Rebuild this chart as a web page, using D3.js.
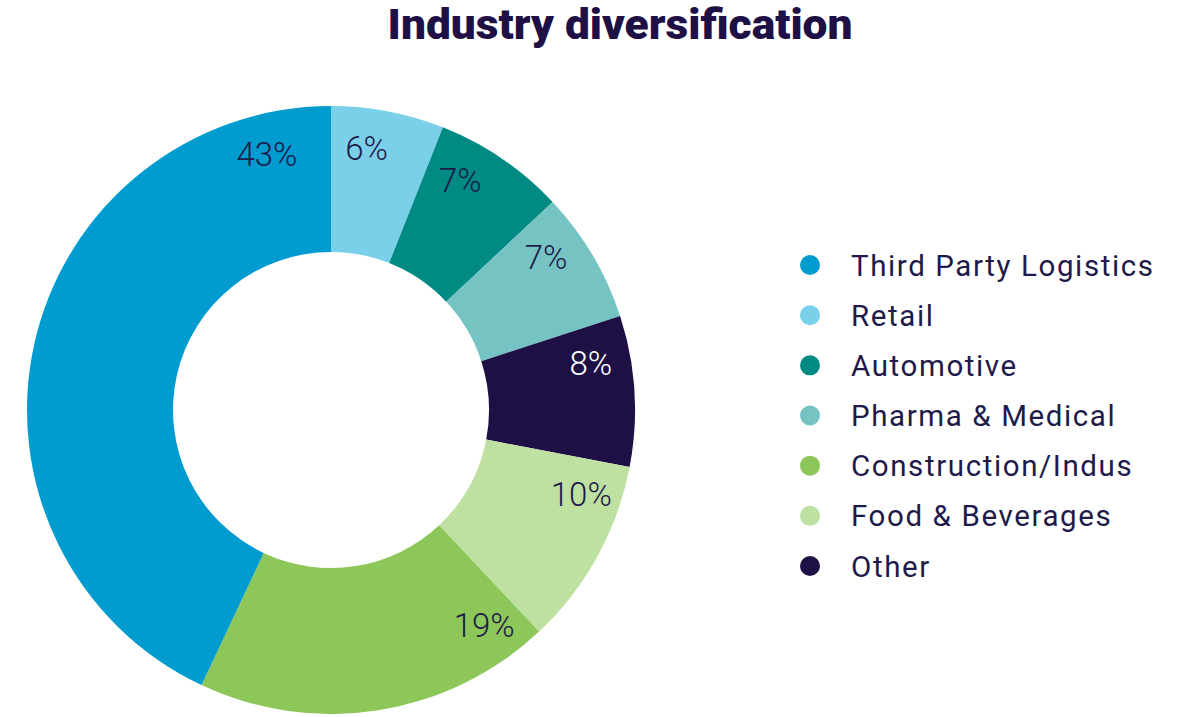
<!DOCTYPE html>
<html>
<head>
<meta charset="utf-8">
<script src="https://cdn.jsdelivr.net/npm/d3@7"></script>
<style>
  body { margin: 0; background: #fff; }
  text { font-family: Roboto, "Noto Sans", sans-serif; }
</style>
</head>
<body>
<svg id="chart" width="1186" height="717"></svg>
<script>
// slices, clockwise from 12 o'clock
let categories = ['Retail', 'Automotive', 'Pharma & Medical', 'Other', 'Food & Beverages', 'Construction/Indus', 'Third Party Logistics'];
let values = [6, 7, 7, 8, 10, 19, 43];
let colors = ['#7ACFE9', '#008A84', '#75C4C3', '#1E1045', '#BEE0A0', '#8DC75A', '#009BCF'];
let legendOrder = ['Third Party Logistics', 'Retail', 'Automotive', 'Pharma & Medical', 'Construction/Indus', 'Food & Beverages', 'Other'];
let title = 'Industry diversification';

let svg = d3.select('#chart');
let ink = '#1E1A4A';
let cx = 331, cy = 410, outerR = 304, innerR = 158;

let color = d3.scaleOrdinal().domain(categories).range(colors);

let pie = d3.pie().sort(null).value(d => d.value);
let arcs = pie(categories.map((c, i) => ({name: c, value: values[i]})));
let arc = d3.arc().innerRadius(innerR).outerRadius(outerR);

let g = svg.append('g').attr('transform', `translate(${cx},${cy})`);

g.selectAll('path.slice')
    .data(arcs)
    .enter().append('path')
    .attr('class', 'slice')
    .attr('d', arc)
    .attr('fill', d => color(d.data.name))

// labels sit just past the leading edge of each slice; the big one hugs the top edge
let labelR = 264;
let labelAngle = (d) => {
    if (d.endAngle - d.startAngle > Math.PI / 2) return d.endAngle - 0.245;
    return d.startAngle + 0.135;
};

g.selectAll('text.lab')
    .data(arcs)
    .enter().append('text')
    .attr('class', 'lab')
    .attr('x', d => labelR * Math.sin(labelAngle(d)))
    .attr('y', d => -labelR * Math.cos(labelAngle(d)))
    .attr('dy', '0.36em')
    .attr('text-anchor', 'middle')
    .attr('font-size', 33)
    .attr('font-weight', 300)
    .attr('fill', d => d.data.name == 'Other' ? '#fff' : ink)
    .text(d => d.data.value + '%')

// legend
let legendY = d3.scalePoint().domain(legendOrder).range([265, 566]);

let legend = svg.append('g');
legend.selectAll('circle')
    .data(legendOrder)
    .enter().append('circle')
    .attr('cx', 810)
    .attr('cy', d => legendY(d))
    .attr('r', 10)
    .attr('fill', d => color(d))

legend.selectAll('text')
    .data(legendOrder)
    .enter().append('text')
    .attr('x', 851)
    .attr('y', d => legendY(d))
    .attr('dy', '0.36em')
    .attr('font-size', 29.5)
    .attr('font-weight', 400)
    .attr('letter-spacing', 1.6)
    .attr('fill', ink)
    .text(d => d)

svg.append('text')
    .attr('x', 620)
    .attr('y', 39)
    .attr('text-anchor', 'middle')
    .attr('font-size', 42)
    .attr('font-weight', 900)
    .attr('fill', '#1E1045')
    .attr('textLength', 465)
    .attr('lengthAdjust', 'spacingAndGlyphs')
    .text(title)
</script>
</body>
</html>
